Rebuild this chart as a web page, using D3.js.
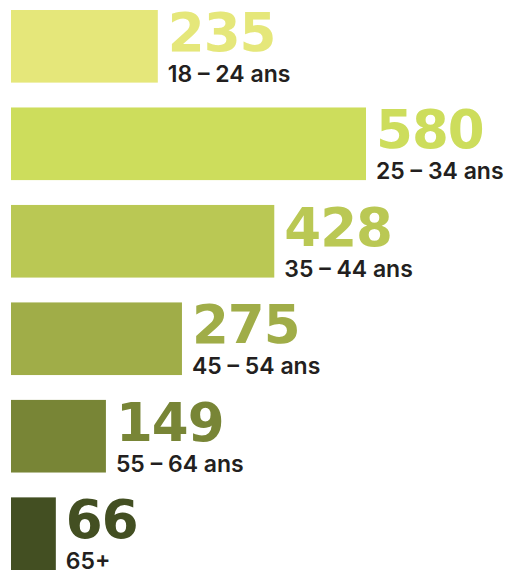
<!DOCTYPE html>
<html><head><meta charset="utf-8">
<script src="https://cdn.jsdelivr.net/npm/d3@7"></script>
<style>html,body{margin:0;padding:0;background:#fff;}</style>
</head><body>
<svg id="chart" width="509" height="571"></svg>
<script>
const categories = ["18 – 24 ans", "25 – 34 ans", "35 – 44 ans", "45 – 54 ans", "55 – 64 ans", "65+"];
const values = [235, 580, 428, 275, 149, 66];
const colors = ["#e5e77a", "#cddd5c", "#bac854", "#a0ad48", "#788536", "#434f22"];

const svg = d3.select("#chart");
const y = d3.scaleBand().domain(categories).range([10, 570]).paddingInner(0.255).paddingOuter(0);
const x = d3.scaleLinear().domain([0, 580]).range([16, 366]);
const x0 = 11;

const g = svg.selectAll("g.row").data(categories).join("g").attr("class", "row");

g.append("rect")
  .attr("x", x0)
  .attr("y", d => y(d))
  .attr("width", (d, i) => x(values[i]) - x0)
  .attr("height", y.bandwidth())
  .attr("fill", (d, i) => colors[i]);

g.append("text")
  .attr("x", (d, i) => x(values[i]) + 10)
  .attr("y", d => y(d) + 41)
  .attr("fill", (d, i) => colors[i])
  .style("font-family", "'DejaVu Sans', sans-serif")
  .style("font-weight", "bold")
  .style("font-size", "53px")
  .style("letter-spacing", "-1px")
  .text((d, i) => values[i]);

g.append("text")
  .attr("x", (d, i) => x(values[i]) + 10)
  .attr("y", d => y(d) + y.bandwidth() - 1)
  .attr("fill", "#231f20")
  .style("font-family", "Inter, sans-serif")
  .style("font-weight", "600")
  .style("font-size", "23px")
  .text(d => d);
</script>
</body></html>
